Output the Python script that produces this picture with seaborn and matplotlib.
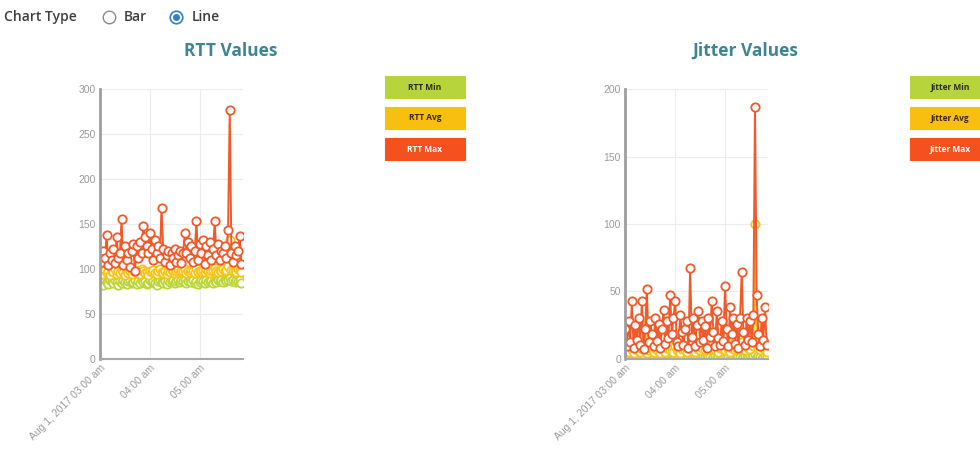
import matplotlib
matplotlib.use("Agg")
from matplotlib import pyplot as plt
from matplotlib.patches import FancyBboxPatch
from matplotlib.lines import Line2D
import numpy as np
import pandas as pd
import seaborn as sns

# ---- data ----
start_time = "2017-08-01 03:00"
n_points = 86
tick_times = ["2017-08-01 03:00", "2017-08-01 04:00", "2017-08-01 05:00"]
tick_labels = ["Aug 1, 2017 03:00 am", "04:00 am", "05:00 am"]

rtt_min = [84, 86, 82, 88, 85, 83, 87, 86, 84, 88,
           85, 82, 86, 84, 87, 85, 83, 86, 88, 84,
           85, 87, 83, 86, 84, 88, 85, 86, 83, 84,
           87, 85, 86, 84, 82, 86, 88, 85, 84, 86,
           83, 87, 85, 86, 88, 84, 86, 87, 85, 88,
           86, 87, 84, 86, 88, 85, 87, 84, 86, 83,
           85, 88, 86, 84, 87, 85, 86, 88, 84, 86,
           85, 87, 86, 88, 85, 87, 86, 88, 90, 86,
           88, 85, 87, 86, 88, 84]
rtt_avg = [96, 98, 94, 99, 95, 97, 93, 98, 96, 100,
           94, 97, 95, 99, 96, 93, 98, 95, 97, 94,
           99, 96, 95, 98, 94, 100, 97, 95, 96, 93,
           98, 96, 99, 95, 94, 97, 100, 96, 95, 98,
           94, 97, 96, 99, 98, 95, 97, 99, 96, 98,
           97, 100, 95, 98, 96, 99, 97, 95, 101, 96,
           98, 97, 99, 96, 100, 97, 95, 98, 99, 101,
           97, 96, 99, 98, 100, 97, 99, 103, 132, 99,
           97, 98, 96, 100, 99, 96]
rtt_max = [115, 108, 120, 112, 138, 104, 118, 110, 122, 106,
           135, 112, 118, 155, 104, 125, 110, 118, 102, 120,
           128, 98, 125, 112, 130, 118, 148, 135, 125, 118,
           140, 122, 110, 132, 118, 125, 112, 168, 122, 108,
           115, 120, 104, 118, 112, 122, 108, 115, 120, 106,
           118, 140, 118, 130, 112, 125, 108, 120, 153, 110,
           128, 118, 132, 105, 125, 115, 130, 110, 122, 153,
           115, 128, 110, 120, 118, 125, 112, 143, 277, 118,
           108, 125, 115, 120, 137, 105]

jit_min = [1, 2, 0, 1, 2, 1, 0, 2, 1, 1,
           0, 2, 1, 3, 1, 0, 2, 1, 1, 2,
           0, 1, 2, 1, 0, 1, 2, 1, 1, 0,
           2, 1, 1, 2, 0, 1, 1, 2, 1, 0,
           2, 1, 1, 2, 1, 0, 1, 2, 1, 1,
           2, 1, 0, 1, 2, 1, 1, 0, 2, 1,
           1, 2, 1, 0, 1, 2, 1, 1, 2, 1,
           0, 1, 2, 1, 1, 2, 1, 2, 3, 1,
           2, 1, 0, 1, 2, 1]
jit_avg = [6, 8, 5, 9, 7, 4, 10, 6, 8, 5,
           7, 9, 25, 4, 6, 11, 7, 5, 8, 6,
           9, 4, 7, 10, 5, 8, 12, 6, 7, 5,
           9, 6, 8, 4, 7, 10, 6, 5, 8, 7,
           11, 6, 5, 9, 7, 6, 8, 14, 6, 7,
           9, 8, 10, 7, 6, 9, 5, 8, 7, 10,
           6, 9, 7, 5, 8, 11, 6, 7, 9, 8,
           12, 7, 6, 9, 8, 7, 10, 9, 100, 10,
           7, 6, 9, 8, 10, 5]
jit_max = [22, 9, 28, 12, 43, 8, 25, 14, 30, 10,
           43, 7, 22, 52, 12, 28, 18, 9, 30, 13,
           26, 8, 22, 36, 11, 28, 15, 47, 18, 30,
           43, 12, 9, 32, 20, 10, 22, 28, 8, 67,
           16, 30, 9, 25, 35, 12, 28, 14, 24, 8,
           30, 16, 43, 20, 9, 35, 15, 10, 28, 13,
           54, 22, 9, 38, 18, 30, 11, 26, 8, 30,
           64, 20, 10, 30, 14, 28, 12, 32, 187, 47,
           18, 9, 30, 14, 38, 10]

series_names = ["Min", "Avg", "Max"]
line_colors = ["#bcd53a", "#f7c51a", "#f0592a"]
box_colors = ["#b7d43c", "#f8bf10", "#f4511e"]
box_text = ["#2b2b10", "#3a2a00", "white"]

times = pd.date_range(start_time, periods=n_points, freq="2min")

sns.set_theme(style="white")
plt.rcParams["font.family"] = ["Open Sans", "DejaVu Sans"]

fig = plt.figure(figsize=(9.8, 4.55), dpi=100)


def draw_panel(left, values, prefix, ymax, yticks, title, title_x, legend_x):
    ax = fig.add_axes([left, 0.212, 0.146, 0.592])
    df = pd.DataFrame({"time": times, "Min": values[0], "Avg": values[1], "Max": values[2]})
    # min first, max on top
    for name, col in zip(series_names, line_colors):
        sns.lineplot(data=df, x="time", y=name, ax=ax, color=col, linewidth=1.4,
                     marker="o", markersize=6, markerfacecolor="white",
                     markeredgecolor=col, markeredgewidth=1.3)
    ax.set_xlim(times[0], times[-1] + pd.Timedelta(minutes=2))
    ax.set_ylim(0, ymax)
    ax.set_yticks(yticks)
    ax.set_xticks(pd.to_datetime(tick_times))
    ax.set_xticklabels(tick_labels, rotation=45, ha="right", rotation_mode="anchor")
    ax.tick_params(axis="both", length=0, labelsize=7.5, labelcolor="#9a9a9a", pad=3)
    ax.set_xlabel("")
    ax.set_ylabel("")
    ax.grid(True, color="#ececec", linewidth=0.8)
    for s in ["top", "right"]:
        ax.spines[s].set_visible(False)
    ax.spines["left"].set_color("#9e9e9e")
    ax.spines["left"].set_linewidth(2)
    ax.spines["bottom"].set_color("#a8a8a8")
    ax.spines["bottom"].set_linewidth(1.5)
    for lab in ax.get_yticklabels() + ax.get_xticklabels():
        lab.set_family(["Liberation Sans", "DejaVu Sans"])

    fig.text(title_x, 0.888, title, ha="center", va="center", fontsize=12.5,
             fontweight="bold", color="#3d8592")

    # legend boxes
    box_w = 80 / 980
    box_h = 22 / 455
    tops = [76, 107, 138]
    for top, name, fc, tc in zip(tops, series_names, box_colors, box_text):
        y0 = 1 - (top + 22) / 455
        rect = FancyBboxPatch((legend_x, y0), box_w, box_h, boxstyle="square,pad=0",
                              transform=fig.transFigure, facecolor=fc,
                              edgecolor=fc, linewidth=0.8)
        fig.add_artist(rect)
        fig.text(legend_x + box_w / 2, y0 + box_h / 2, prefix + " " + name,
                 ha="center", va="center", fontsize=6, fontweight="bold", color=tc)
    return ax


draw_panel(0.102, [rtt_min, rtt_avg, rtt_max], "RTT", 300, [0, 50, 100, 150, 200, 250, 300],
           "RTT Values", 0.235, 385 / 980)
draw_panel(0.638, [jit_min, jit_avg, jit_max], "Jitter", 200, [0, 50, 100, 150, 200],
           "Jitter Values", 0.760, 910 / 980)

# header with radio buttons
hy = 1 - 17 / 455
fig.text(4 / 980, hy, "Chart Type", ha="left", va="center", fontsize=10,
         fontweight="semibold", color="#3e3e3e")
fig.add_artist(Line2D([109 / 980], [hy], marker="o", markersize=9, markerfacecolor="white",
                      markeredgecolor="#8a8a8a", markeredgewidth=1.0, transform=fig.transFigure))
fig.text(124 / 980, hy, "Bar", ha="left", va="center", fontsize=10,
         fontweight="semibold", color="#3e3e3e")
fig.add_artist(Line2D([176 / 980], [hy], marker="o", markersize=9, markerfacecolor="white",
                      markeredgecolor="#2f7fd0", markeredgewidth=1.2, transform=fig.transFigure))
fig.add_artist(Line2D([176 / 980], [hy], marker="o", markersize=4, markerfacecolor="#2f7fd0",
                      markeredgecolor="#2f7fd0", transform=fig.transFigure))
fig.text(192 / 980, hy, "Line", ha="left", va="center", fontsize=10,
         fontweight="semibold", color="#3e3e3e")

plt.savefig("out.png", dpi=100)
